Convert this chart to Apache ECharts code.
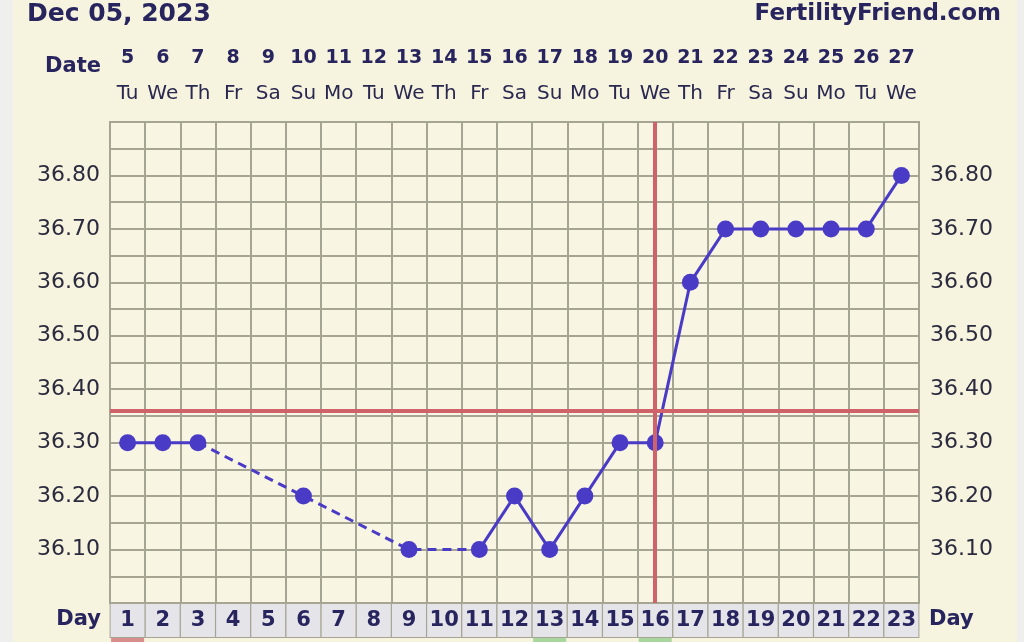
<!DOCTYPE html>
<html>
<head>
<meta charset="utf-8">
<script src="https://cdn.jsdelivr.net/npm/echarts@6/dist/echarts.min.js"></script>
<style>
html,body{margin:0;padding:0;background:#efefed;}
#main{width:1024px;height:642px;}
</style>
</head>
<body>
<div id="main"></div>
<script>
// ---- data ----
var cycleDays = ['1','2','3','4','5','6','7','8','9','10','11','12','13','14','15','16','17','18','19','20','21','22','23'];
var dateNums = ['5','6','7','8','9','10','11','12','13','14','15','16','17','18','19','20','21','22','23','24','25','26','27'];
var weekDays = ['Tu','We','Th','Fr','Sa','Su','Mo','Tu','We','Th','Fr','Sa','Su','Mo','Tu','We','Th','Fr','Sa','Su','Mo','Tu','We'];
var temps = [36.30,36.30,36.30,null,null,36.20,null,null,36.10,null,36.10,36.20,36.10,36.20,36.30,36.30,36.60,36.70,36.70,36.70,36.70,36.70,36.80];
var stripMarks = ['p','','','','','','','','','','','','g','','','g','','','','','','',''];
var coverLine = 36.36;
var ovulationDay = '16';
var yTickLabels = ['36.10','36.20','36.30','36.40','36.50','36.60','36.70','36.80'];

// gap-bridging points (for dashed connections over missing days)
var bridge = temps.map(function(v,i){
  if (v == null || i === 0 || i === temps.length-1) return null;
  return (temps[i-1] == null || temps[i+1] == null) ? v : null;
});

var FONT = 'DejaVu Sans';
var NAVY = '#27245e';
var GRIDC = '#a6a493';
var LINE = '#4a3bc6';

function yFmt(v){
  var s = v.toFixed(2);
  return yTickLabels.indexOf(s) >= 0 ? s : '';
}

var chart = echarts.init(document.getElementById('main'), null, {renderer:'canvas'});
chart.setOption({
  backgroundColor: '#f6f3de',
  animation: false,
  grid: {left:110, right:105, top:122, bottom:39, outerBoundsMode:'none', containLabel:false,
         show:true, borderColor:GRIDC, borderWidth:2, backgroundColor:'#f8f5e2'},
  graphic: [
    {type:'rect', shape:{x:0,y:0,width:13,height:642}, style:{fill:'#efefed'}, silent:true},
    {type:'rect', shape:{x:1017,y:0,width:7,height:642}, style:{fill:'#efefed'}, silent:true},
    {type:'text', x:27, y:14, style:{text:'Dec 05, 2023', font:'bold 25px "DejaVu Sans"', fill:NAVY, align:'left', verticalAlign:'middle'}},
    {type:'text', x:1001, y:14, style:{text:'FertilityFriend.com', font:'bold 23px "DejaVu Sans"', fill:NAVY, align:'right', verticalAlign:'middle'}},
    {type:'text', x:101, y:67, style:{text:'Date', font:'bold 21px "DejaVu Sans"', fill:NAVY, align:'right', verticalAlign:'middle'}},
    {type:'text', x:101, y:620, style:{text:'Day', font:'bold 21px "DejaVu Sans"', fill:NAVY, align:'right', verticalAlign:'middle'}},
    {type:'text', x:929, y:620, style:{text:'Day', font:'bold 21px "DejaVu Sans"', fill:NAVY, align:'left', verticalAlign:'middle'}}
  ],
  xAxis: [
    {
      type:'category', data:cycleDays, position:'bottom', boundaryGap:true,
      axisLine:{show:false}, axisTick:{show:false},
      splitLine:{show:true, interval:0, lineStyle:{color:GRIDC, width:2}},
      axisLabel:{interval:0, margin:1, fontFamily:FONT, fontWeight:'bold', fontSize:21, color:NAVY,
        backgroundColor:'#e4e4e9', borderColor:GRIDC, borderWidth:1, width:34, height:33, lineHeight:33, align:'center'}
    },
    {
      type:'category', data:stripMarks, position:'bottom', offset:35, boundaryGap:true,
      axisLine:{show:false}, axisTick:{show:false}, splitLine:{show:false},
      axisLabel:{interval:0, margin:0,
        formatter:function(v){ return v ? '{' + v + '| }' : ''; },
        rich:{
          p:{width:33, height:6, backgroundColor:'#d98e8e', fontSize:4},
          g:{width:33, height:6, backgroundColor:'#a9d69e', fontSize:4}
        }}
    },
    {
      type:'category', data:weekDays, position:'top', offset:0, boundaryGap:true,
      axisLine:{show:false}, axisTick:{show:false}, splitLine:{show:false},
      axisLabel:{interval:0, margin:18, fontFamily:FONT, fontSize:20, color:'#2a2850'}
    },
    {
      type:'category', data:dateNums, position:'top', offset:36, boundaryGap:true,
      axisLine:{show:false}, axisTick:{show:false}, splitLine:{show:false},
      axisLabel:{interval:0, margin:18, fontFamily:FONT, fontWeight:'bold', fontSize:19, color:NAVY}
    }
  ],
  yAxis: [
    {
      type:'value', min:36.0, max:36.9, interval:0.05, position:'left',
      axisLine:{show:false}, axisTick:{show:false},
      splitLine:{show:true, lineStyle:{color:GRIDC, width:2}},
      axisLabel:{formatter:yFmt, margin:10, fontFamily:FONT, fontSize:22, color:'#2b2a3e'}
    },
    {
      type:'value', min:36.0, max:36.9, interval:0.05, position:'right',
      axisLine:{show:false}, axisTick:{show:false}, splitLine:{show:false},
      axisLabel:{formatter:yFmt, margin:11, fontFamily:FONT, fontSize:22, color:'#2b2a3e'}
    }
  ],
  series: [
    {
      name:'bridge', type:'line', data:bridge, connectNulls:true, showSymbol:false, symbol:'none',
      lineStyle:{color:LINE, width:3, type:[9,6]}, z:3, silent:true
    },
    {
      name:'temp', type:'line', data:temps, connectNulls:false,
      symbol:'circle', symbolSize:17, itemStyle:{color:LINE},
      lineStyle:{color:LINE, width:3}, z:4,
      markLine:{
        silent:true, symbol:['none','none'], label:{show:false},
        lineStyle:{color:'#d0636a', width:4, type:'solid'},
        data:[{yAxis:coverLine},{xAxis:ovulationDay}]
      }
    }
  ]
});
</script>
</body>
</html>
